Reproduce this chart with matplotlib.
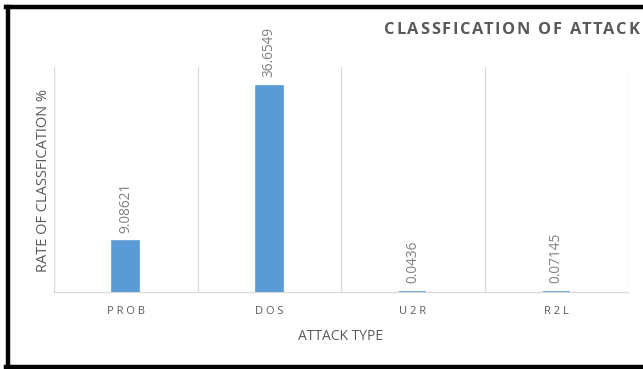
import matplotlib
matplotlib.use("Agg")
import matplotlib.pyplot as plt
from matplotlib.lines import Line2D
from matplotlib.font_manager import FontProperties

categories = ["PROB", "DOS", "U2R", "R2L"]
rates = [9.08621, 36.6549, 0.0436, 0.07145]
value_labels = ["9.08621", "36.6549", "0.0436", "0.07145"]

plt.rcParams['font.family'] = ['Open Sans', 'DejaVu Sans']

fig = plt.figure(figsize=(6.43, 3.69), dpi=100)
W, H = 643, 369
ax = fig.add_axes([54 / W, 1 - 292 / H, (628 - 54) / W, (292 - 67) / H])

bar_color = "#5B9BD5"
x = list(range(len(categories)))
ax.bar(x, rates, width=0.185, color=bar_color, edgecolor=bar_color, linewidth=1.2, zorder=3)

ax.set_xlim(-0.5, len(categories) - 0.5)
ax.set_ylim(0, 40)

# category separators
for b in [-0.5, 0.5, 1.5, 2.5, 3.5]:
    ax.axvline(b, color="#D9D9D9", linewidth=0.9, zorder=1)

for s in ["top", "right", "left"]:
    ax.spines[s].set_visible(False)
ax.spines["bottom"].set_color("#D9D9D9")
ax.spines["bottom"].set_linewidth(0.9)

ax.set_yticks([])
ax.set_xticks(x)
ax.set_xticklabels([" ".join(c) for c in categories], fontsize=8, color="#595959")
ax.tick_params(axis="x", length=0, pad=10)

for xi, v, lab in zip(x, rates, value_labels):
    ax.annotate(lab, (xi, v), xytext=(0, 6), textcoords="offset points",
                rotation=90, ha="center", va="bottom", fontsize=9.8, color="#808080")

fig.text(44 / W, 1 - 180 / H, "RATE OF CLASSFICATION %", rotation=90,
         ha="center", va="center", fontsize=10.5, color="#595959")
fig.text(341 / W, 1 - 336 / H, "ATTACK TYPE", ha="center", va="center",
         fontsize=10, color="#595959")


def spaced_text(x0_px, x1_px, baseline_px, s, size, **kw):
    """Draw a string letter by letter, tracked out to span x0..x1 pixels."""
    fp = FontProperties(family="Open Sans", weight="bold", size=size)
    rend = fig.canvas.get_renderer()

    def width(t):
        return rend.get_text_width_height_descent(t, fp, ismath=False)[0]

    total = width(s)
    spacing = (x1_px - x0_px - total) / (len(s) - 1)
    for i, ch in enumerate(s):
        if ch == " ":
            continue
        left = width(s[:i + 1]) - width(ch)
        fig.text((x0_px + left + i * spacing) / W, 1 - baseline_px / H, ch, ha="left",
                 va="baseline", fontproperties=fp, **kw)


spaced_text(384, 639, 34, "CLASSFICATION OF ATTACK", 11.8, color="#595959")

# frame around the figure
fig.add_artist(Line2D([6 / W, 1], [1 - 7 / H, 1 - 7 / H], color="black", linewidth=3.2,
                      transform=fig.transFigure))
fig.add_artist(Line2D([8 / W, 8 / W], [1 - 7 / H, 1 - 367 / H], color="black", linewidth=3.2,
                      transform=fig.transFigure))
fig.add_artist(Line2D([6 / W, 1], [1 - 367 / H, 1 - 367 / H], color="black", linewidth=3.2,
                      transform=fig.transFigure))

fig.savefig("out.png", dpi=100)
